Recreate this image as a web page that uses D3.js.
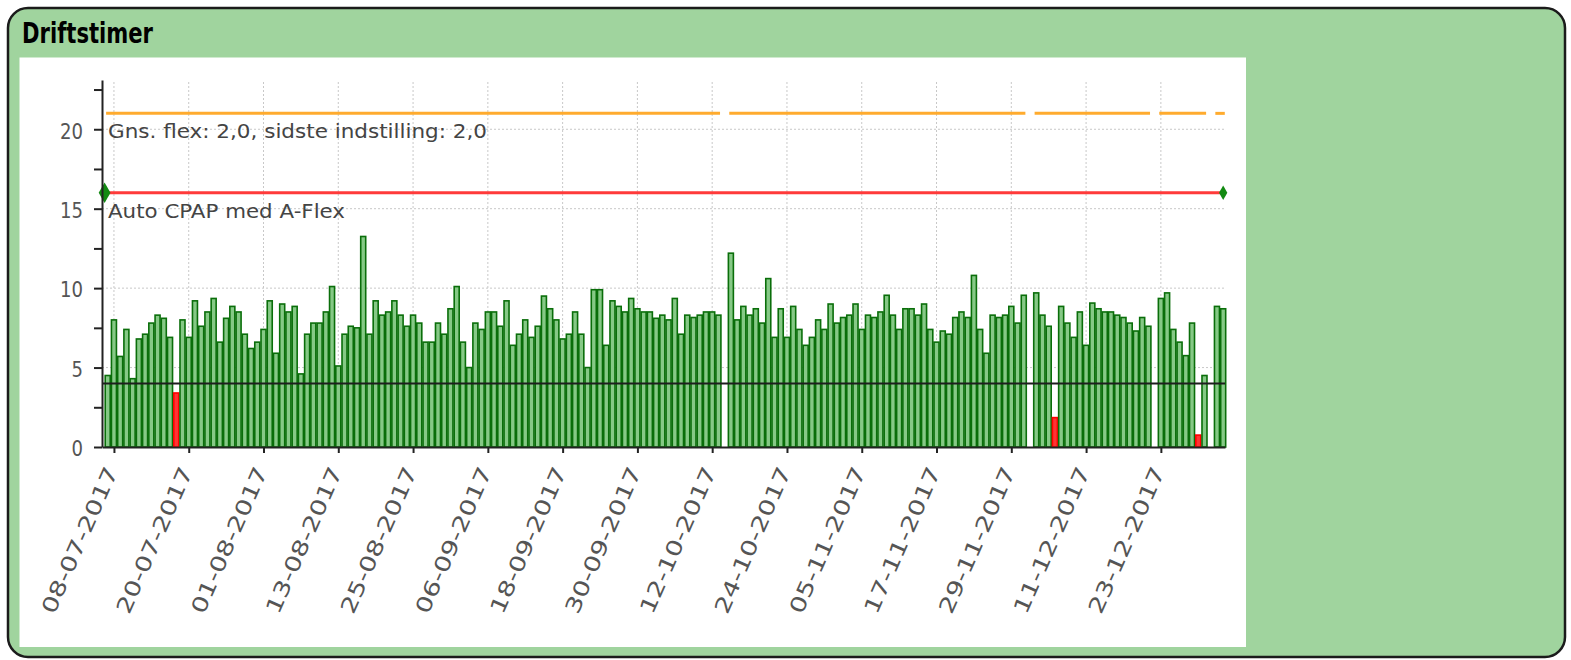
<!DOCTYPE html>
<html>
<head>
<meta charset="utf-8">
<script src="https://cdn.jsdelivr.net/npm/d3@7/dist/d3.min.js"></script>
<style>
  body { margin: 0; background: #fff; }
  svg { display: block; }
  text { font-family: "DejaVu Sans", Verdana, sans-serif; }
</style>
</head>
<body>
<div id="chart"></div>
<script>
// Driftstimer - daily usage hours
var title = "Driftstimer";
var firstDay = "07-07-2017";
// one value per day from firstDay, null = no data that day
var hours = [
  4.5, 8.0, 5.7, 7.4, 4.3, 6.8, 7.1, 7.8, 8.3, 8.1, 6.9, 3.4, 8.0, 6.9, 9.2, 7.6, 8.5, 9.35, 6.6, 8.1,
  8.85, 8.5, 7.1, 6.2, 6.6, 7.4, 9.2, 5.9, 9.0, 8.5, 8.85, 4.6, 7.1, 7.8, 7.8, 8.5, 10.1, 5.1, 7.1, 7.6,
  7.5, 13.25, 7.1, 9.2, 8.3, 8.5, 9.2, 8.3, 7.6, 8.3, 7.8, 6.6, 6.6, 7.8, 7.1, 8.7, 10.1, 6.6, 5.0, 7.8,
  7.4, 8.5, 8.5, 7.6, 9.2, 6.4, 7.1, 8.0, 6.9, 7.6, 9.5, 8.7, 8.0, 6.8, 7.1, 8.5, 7.1, 5.0, 9.9, 9.9,
  6.4, 9.2, 8.85, 8.5, 9.35, 8.7, 8.5, 8.5, 8.1, 8.3, 8.0, 9.35, 7.1, 8.3, 8.15, 8.3, 8.5, 8.5, 8.3, null,
  12.2, 8.0, 8.85, 8.3, 8.7, 7.8, 10.6, 6.9, 8.7, 6.9, 8.85, 7.4, 6.4, 6.9, 8.0, 7.4, 9.0, 7.8, 8.15, 8.3,
  9.0, 7.4, 8.3, 8.15, 8.5, 9.55, 8.3, 7.4, 8.7, 8.7, 8.3, 9.0, 7.4, 6.6, 7.3, 7.1, 8.15, 8.5, 8.15, 10.8,
  7.4, 5.9, 8.3, 8.15, 8.3, 8.85, 7.8, 9.55, null, 9.7, 8.3, 7.6, 1.85, 8.85, 7.8, 6.9, 8.5, 6.4, 9.06, 8.7,
  8.5, 8.5, 8.3, 8.15, 7.8, 7.3, 8.15, 7.6, null, 9.35, 9.7, 7.4, 6.6, 5.75, 7.8, 0.75, 4.5, null, 8.85, 8.7
];
var xTickLabels = ["08-07-2017", "20-07-2017", "01-08-2017", "13-08-2017", "25-08-2017",
  "06-09-2017", "18-09-2017", "30-09-2017", "12-10-2017", "24-10-2017", "05-11-2017",
  "17-11-2017", "29-11-2017", "11-12-2017", "23-12-2017"];
var yTickLabels = [0, 5, 10, 15, 20];
var minHours = 4;        // black limit line
var flexLevel = 21;      // orange line
var pressureLevel = 16;  // red line
var flexText = "Gns. flex: 2,0, sidste indstilling: 2,0";
var modeText = "Auto CPAP med A-Flex";

function makeChart() {
  var svgWidth = 1571, svgHeight = 660;
  var parseDay = d3.timeParse("%d-%m-%Y");
  var fmtDay = d3.timeFormat("%d-%m-%Y");
  var start = parseDay(firstDay);
  var data = hours.map(function(h, i) { return { day: d3.timeDay.offset(start, i), h: h }; });
  var lastDay = data[data.length - 1].day;

  var svg = d3.select("#chart").append("svg")
    .attr("width", svgWidth)
    .attr("height", svgHeight);

  // green panel + white plot box
  svg.append("rect")
    .attr("x", 8).attr("y", 8).attr("width", 1557).attr("height", 649)
    .attr("rx", 20)
    .attr("fill", "#a0d49e").attr("stroke", "#1b1b1b").attr("stroke-width", 2.5);
  svg.append("rect")
    .attr("x", 19.5).attr("y", 57.5).attr("width", 1226.5).attr("height", 589.5)
    .attr("fill", "#fff");
  svg.append("text")
    .attr("x", 22).attr("y", 43)
    .attr("font-size", 29).attr("font-weight", "bold").attr("fill", "#000")
    .attr("textLength", 131).attr("lengthAdjust", "spacingAndGlyphs")
    .text(title);

  var plotLeft = 102, plotRight = 1225, plotTop = 80, plotBottom = 447;
  var x = d3.scaleTime()
    .domain([d3.timeHour.offset(start, -22), d3.timeHour.offset(lastDay, 7)])
    .range([plotLeft, plotRight]);
  var y = d3.scaleLinear().domain([0, 23.1]).range([plotBottom, plotTop]);
  var halfDay = 12 * 3600 * 1000;

  var g = svg.append("g");

  // dotted grid
  g.selectAll(".vgrid").data(xTickLabels).enter().append("line")
    .attr("x1", d => x(parseDay(d))).attr("x2", d => x(parseDay(d)))
    .attr("y1", plotTop + 2).attr("y2", plotBottom)
    .attr("stroke", "#c8c8c8").attr("stroke-dasharray", "2,2").attr("stroke-width", 1);
  g.selectAll(".hgrid").data(yTickLabels.filter(d => d > 0)).enter().append("line")
    .attr("x1", plotLeft).attr("x2", plotRight)
    .attr("y1", d => y(d)).attr("y2", d => y(d))
    .attr("stroke", "#c8c8c8").attr("stroke-dasharray", "2,2").attr("stroke-width", 1);

  // bars
  var present = data.filter(d => d.h !== null);
  g.selectAll(".bar").data(present).enter().append("rect")
    .attr("x", d => x(d.day) - 2.5)
    .attr("width", 5)
    .attr("y", d => y(d.h))
    .attr("height", d => plotBottom - y(d.h))
    .attr("fill", d => d.h < minHours ? "#ff3434" : "#86c986")
    .attr("stroke", d => d.h < minHours ? "#ff0000" : "#0a6e0a")
    .attr("stroke-width", 1.6);

  // orange flex line, broken on days without data
  var runs = [];
  data.forEach(function(d, i) {
    if (d.h === null) return;
    if (i > 0 && data[i - 1].h !== null) runs[runs.length - 1].end = d.day;
    else runs.push({ start: d.day, end: d.day });
  });
  g.selectAll(".flex").data(runs).enter().append("line")
    .attr("x1", d => x(new Date(+d.start - halfDay)) + 1.5)
    .attr("x2", d => x(new Date(+d.end + halfDay)) - 1.5)
    .attr("y1", y(flexLevel)).attr("y2", y(flexLevel))
    .attr("stroke", "#ffab2e").attr("stroke-width", 3);

  // red pressure line with end markers
  var px1 = x(new Date(+start - halfDay)), px2 = x(lastDay);
  g.append("line")
    .attr("x1", px1).attr("x2", px2)
    .attr("y1", y(pressureLevel)).attr("y2", y(pressureLevel))
    .attr("stroke", "#ff3a3a").attr("stroke-width", 3);
  g.selectAll(".mark").data([[px1, 120], [px2, 60]]).enter().append("path")
    .attr("transform", d => "translate(" + d[0] + "," + y(pressureLevel) + ")")
    .attr("d", d => d3.symbol(d3.symbolDiamond, d[1])())
    .attr("fill", "#128a12");

  // black minimum line
  g.append("line")
    .attr("x1", plotLeft).attr("x2", plotRight)
    .attr("y1", y(minHours)).attr("y2", y(minHours))
    .attr("stroke", "#1e1e1e").attr("stroke-width", 2);

  // annotations
  [[flexText, flexLevel, 379], [modeText, pressureLevel, 237]].forEach(function(t) {
    g.append("text")
      .attr("x", 108).attr("y", y(t[1]) + 25)
      .attr("font-size", 20).attr("fill", "#444")
      .attr("textLength", t[2]).attr("lengthAdjust", "spacingAndGlyphs")
      .text(t[0]);
  });

  // axes
  var yAxis = g.append("g")
    .attr("transform", "translate(" + plotLeft + ",0)")
    .call(d3.axisLeft(y).tickValues(d3.range(0, 23, 2.5))
      .tickFormat(d => d % 5 === 0 ? d : "").tickSize(8).tickSizeOuter(0));
  yAxis.select(".domain").attr("stroke", "#222").attr("stroke-width", 2);
  yAxis.selectAll(".tick line").attr("stroke", "#222").attr("stroke-width", 2);
  yAxis.selectAll(".tick text")
    .attr("x", -19).attr("dy", "0.42em")
    .attr("font-size", 21).attr("fill", "#555")
    .attr("font-family", "DejaVu Sans, Verdana, sans-serif")
    .each(function() {
      var s = d3.select(this).text();
      if (s) d3.select(this).attr("textLength", s.length * 11.5).attr("lengthAdjust", "spacingAndGlyphs");
    });

  var xAxis = g.append("g")
    .attr("transform", "translate(0," + plotBottom + ")")
    .call(d3.axisBottom(x).tickValues(xTickLabels.map(parseDay))
      .tickFormat(fmtDay).tickSize(6).tickSizeOuter(0));
  xAxis.select(".domain").attr("stroke", "#222").attr("stroke-width", 2);
  xAxis.selectAll(".tick line").attr("stroke", "#222").attr("stroke-width", 2);
  xAxis.selectAll(".tick text")
    .attr("y", null).attr("dy", null)
    .attr("text-anchor", "end")
    .attr("transform", "translate(4,24) rotate(-66)")
    .attr("font-size", 21).attr("fill", "#555")
    .attr("font-family", "DejaVu Sans, Verdana, sans-serif")
    .attr("textLength", 158).attr("lengthAdjust", "spacingAndGlyphs");
}

makeChart();
</script>
</body>
</html>
